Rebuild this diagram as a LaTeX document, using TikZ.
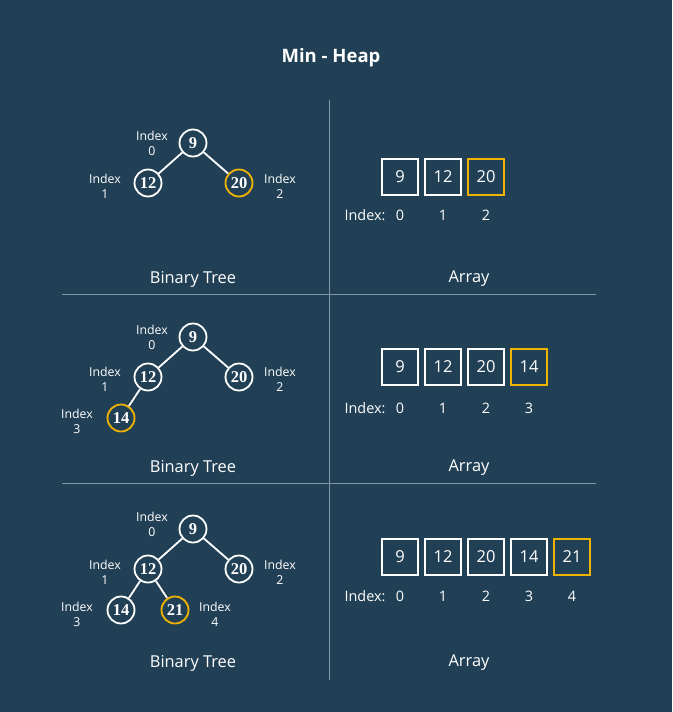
\documentclass[tikz,border=0pt]{standalone}
\usepackage{fontspec}
\setmainfont{Open Sans}
\newfontfamily\numfont{Liberation Serif}
\definecolor{bg}{RGB}{34,64,85}
\definecolor{hl}{RGB}{240,180,0}
\definecolor{divc}{RGB}{130,150,165}
\begin{document}
\begin{tikzpicture}[x=1pt,y=-1pt,
  tn/.style={circle,draw=white,line width=1.8pt,minimum size=27pt,inner sep=0pt,text=white,font=\numfont\bfseries\fontsize{16.5}{16.5}\selectfont},
  tnh/.style={tn,draw=hl},
  ab/.style={rectangle,draw=white,line width=2pt,minimum size=36.5pt,inner sep=0pt,text=white,font=\fontsize{16.5}{16.5}\selectfont},
  abh/.style={ab,draw=hl},
  idx/.style={text=white,align=center,font=\fontsize{12.3}{15}\selectfont,inner sep=0pt},
  ail/.style={text=white,font=\fontsize{14.4}{14.4}\selectfont,inner sep=0pt},
  captext/.style={text=white,font=\fontsize{16.4}{16.4}\selectfont,inner sep=0pt},
  edgeline/.style={draw=white,line width=1.8pt},
  divl/.style={draw=divc,line width=0.8pt}]
\fill[bg] (0,0) rectangle (672,712);
\useasboundingbox (0,0) rectangle (672,712);
\node[text=white,font=\bfseries\fontsize{18.5}{18.5}\selectfont] (title) at (331,58) {Min - Heap};
% dividers
\coordinate (vt) at (329,100); \coordinate (vb) at (329,680);
\draw[divl] (vt) -- (vb);
\coordinate (h1l) at (62,294); \coordinate (h1r) at (596,294);
\coordinate (h2l) at (62,483); \coordinate (h2r) at (596,483);
\draw[divl] (h1l) -- (h1r);
\draw[divl] (h2l) -- (h2r);
% ---------- Panel 1
\node[tn] (a9) at (193,143) {9};
\node[tn] (a12) at (148,183) {12};
\node[tnh] (a20) at (239,183) {20};
\draw[edgeline] (a9) -- (a12);
\draw[edgeline] (a9) -- (a20);
\node[idx] (ai0) at (152,143) {Index\\0};
\node[idx] (ai1) at (105,186) {Index\\1};
\node[idx] (ai2) at (280,186) {Index\\2};
\node[ab] (ab0) at (400,177) {9};
\node[ab] (ab1) at (443,177) {12};
\node[abh] (ab2) at (486,177) {20};
\node[ail] (al) at (365,215) {Index:};
\node[ail] (al0) at (400,215) {0};
\node[ail] (al1) at (443,215) {1};
\node[ail] (al2) at (486,215) {2};
\node[captext] (abt) at (193,279) {Binary Tree};
\node[captext] (aar) at (469,279) {Array};
% ---------- Panel 2
\node[tn] (b9) at (193,337) {9};
\node[tn] (b12) at (148,377) {12};
\node[tn] (b20) at (239,377) {20};
\node[tnh] (b14) at (121,418) {14};
\draw[edgeline] (b9) -- (b12);
\draw[edgeline] (b9) -- (b20);
\draw[edgeline] (b12) -- (b14);
\node[idx] (bi0) at (152,337) {Index\\0};
\node[idx] (bi1) at (105,379) {Index\\1};
\node[idx] (bi2) at (280,379) {Index\\2};
\node[idx] (bi3) at (77,421) {Index\\3};
\node[ab] (bb0) at (400,367) {9};
\node[ab] (bb1) at (443,367) {12};
\node[ab] (bb2) at (486,367) {20};
\node[abh] (bb3) at (529,367) {14};
\node[ail] (bl) at (365,408) {Index:};
\node[ail] (bl0) at (400,408) {0};
\node[ail] (bl1) at (443,408) {1};
\node[ail] (bl2) at (486,408) {2};
\node[ail] (bl3) at (529,408) {3};
\node[captext] (bbt) at (193,468) {Binary Tree};
\node[captext] (bar) at (469,468) {Array};
% ---------- Panel 3
\node[tn] (c9) at (193,529) {9};
\node[tn] (c12) at (148,569) {12};
\node[tn] (c20) at (239,569) {20};
\node[tn] (c14) at (121,610) {14};
\node[tnh] (c21) at (175,610) {21};
\draw[edgeline] (c9) -- (c12);
\draw[edgeline] (c9) -- (c20);
\draw[edgeline] (c12) -- (c14);
\draw[edgeline] (c12) -- (c21);
\node[idx] (ci0) at (152,524) {Index\\0};
\node[idx] (ci1) at (105,572) {Index\\1};
\node[idx] (ci2) at (280,572) {Index\\2};
\node[idx] (ci3) at (77,614) {Index\\3};
\node[idx] (ci4) at (215,614) {Index\\4};
\node[ab] (cb0) at (400,557) {9};
\node[ab] (cb1) at (443,557) {12};
\node[ab] (cb2) at (486,557) {20};
\node[ab] (cb3) at (529,557) {14};
\node[abh] (cb4) at (572,557) {21};
\node[ail] (cl) at (365,596) {Index:};
\node[ail] (cl0) at (400,596) {0};
\node[ail] (cl1) at (443,596) {1};
\node[ail] (cl2) at (486,596) {2};
\node[ail] (cl3) at (529,596) {3};
\node[ail] (cl4) at (572,596) {4};
\node[captext] (cbt) at (193,663) {Binary Tree};
\node[captext] (car) at (469,663) {Array};
\end{tikzpicture}
\end{document}
